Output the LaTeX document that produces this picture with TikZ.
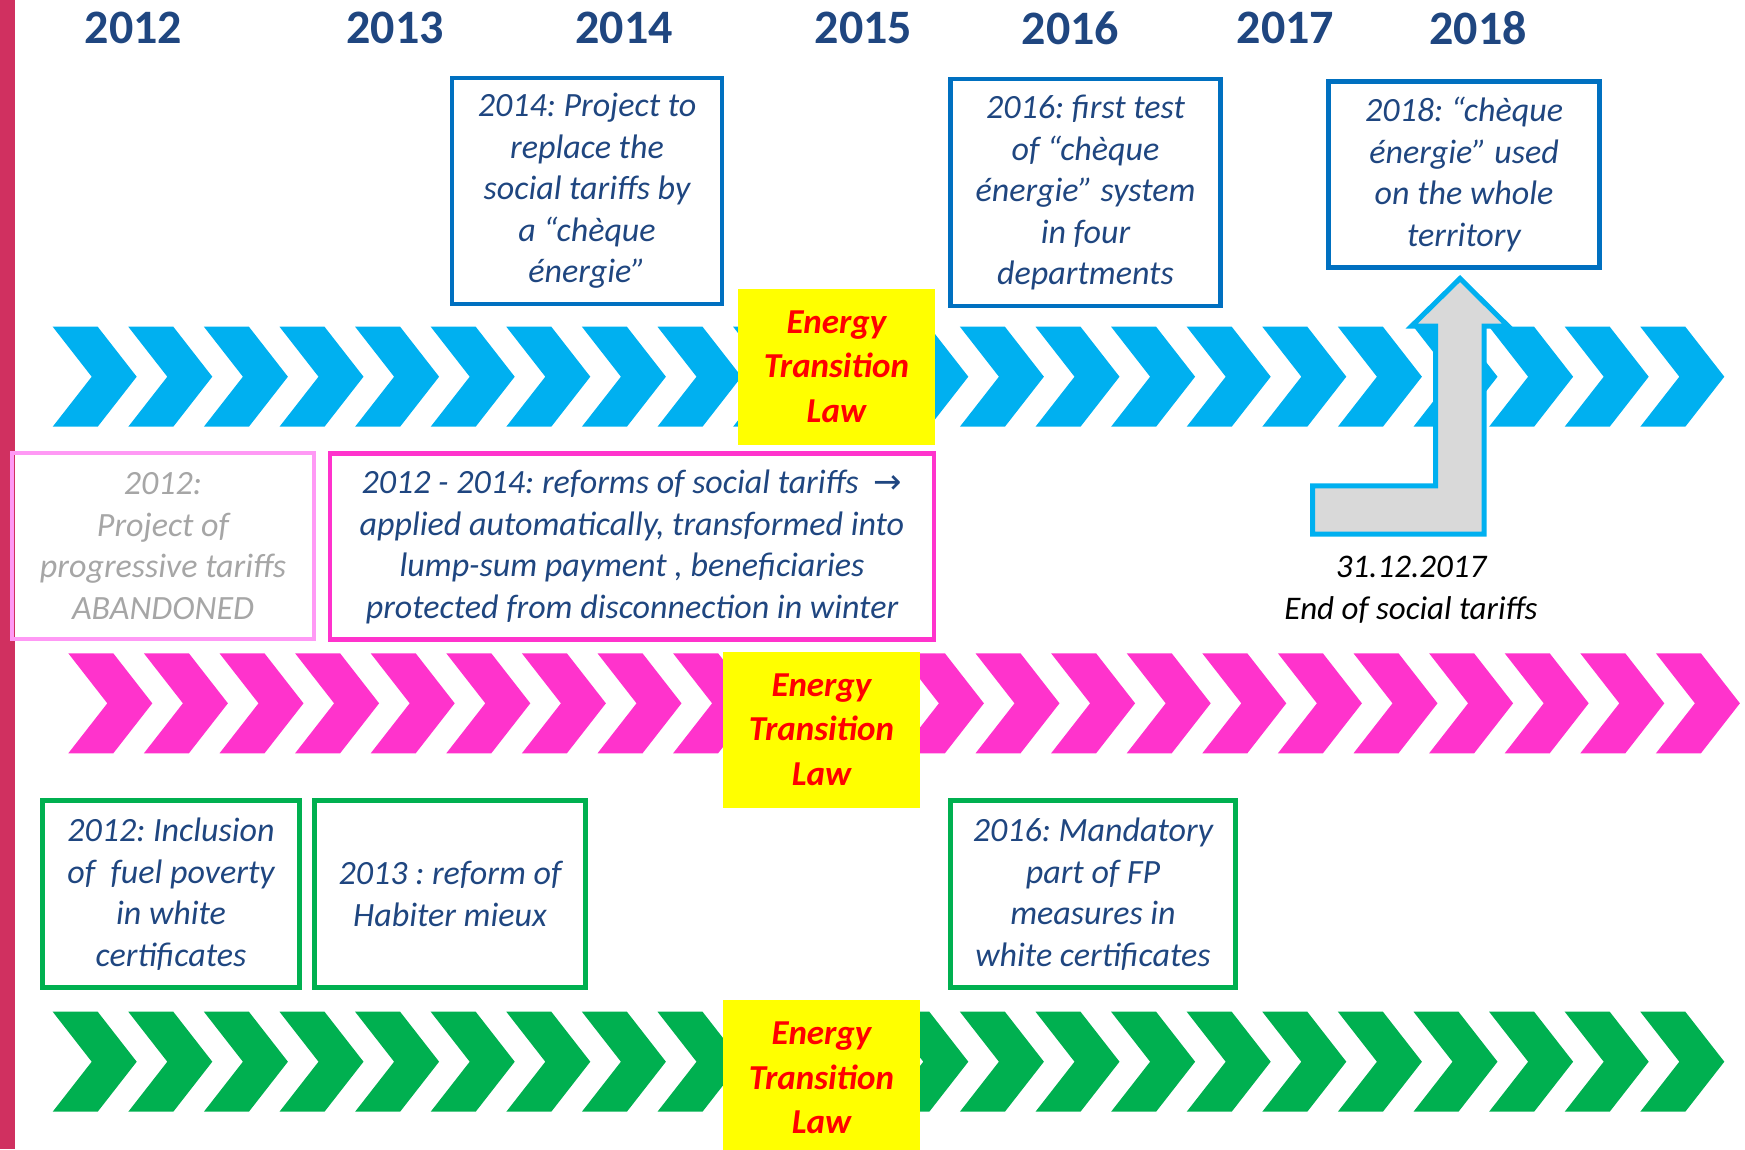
\documentclass[tikz,border=0pt]{standalone}
\usepackage{fontspec}
\setmainfont{Carlito}
\newfontfamily\arrowfont{DejaVu Sans}
\usetikzlibrary{positioning}
\frenchspacing
\definecolor{txtblue}{HTML}{1F4680}
\definecolor{boxblue}{HTML}{0070C0}
\definecolor{chevblue}{HTML}{00B0F0}
\definecolor{chevpink}{HTML}{FF33CC}
\definecolor{softpink}{HTML}{FF99F5}
\definecolor{chevgreen}{HTML}{00B050}
\definecolor{arrowgray}{HTML}{D9D9D9}
\definecolor{txtgray}{HTML}{A6A6A6}
\definecolor{barred}{HTML}{D03060}
\definecolor{lawyellow}{HTML}{FFFF00}
% one row of 22 chevrons: colour, left x, top y
\newcommand{\chevrons}[3]{%
  \foreach \i in {0,...,21}
    \fill[#1] ({#2+75.6*\i},#3) -- ++(45,0) -- ++(39,50) -- ++(-39,50)
      -- ++(-45,0) -- ++(39,-50) -- cycle;}

\begin{document}
\begin{tikzpicture}[x=1pt,y=-1pt,
  year/.style={font=\fontsize{48}{58}\selectfont\bfseries,text=txtblue},
  box/.style={draw,line width=4.5pt,align=center,inner sep=0pt,
    font=\fontsize{34}{41.5}\selectfont\itshape,text=txtblue},
  bluebox/.style={box,draw=boxblue},
  pinkbox/.style={box,draw=chevpink},
  greenbox/.style={box,draw=chevgreen},
  law/.style={fill=lawyellow,text=red,align=center,inner sep=0pt,
    minimum width=197pt,minimum height=156pt,
    font=\fontsize{35}{44.5}\selectfont\bfseries\itshape}]
\useasboundingbox (0,0) rectangle (1745,1149);
\fill[barred] (0,0) rectangle (14.5,1149);
%
% years
\node[year] (y12) at (133.5,28) {2012};
\node[year] (y13) at (395,28) {2013};
\node[year] (y14) at (624,28) {2014};
\node[year] (y15) at (863.5,28) {2015};
\node[year] (y16) at (1070.5,28) {2016};
\node[year] (y17) at (1285.5,28) {2017};
\node[year] (y18) at (1478,28) {2018};
%
% the three lanes
\chevrons{chevblue}{52.7}{326.7}
\chevrons{chevpink}{68.3}{653.3}
\chevrons{chevgreen}{52.7}{1011.7}
\node[law] (law1) at (836.4,366.5) {Energy\\Transition\\Law};
\node[law] (law2) at (821.5,729.5) {Energy\\Transition\\Law};
\node[law] (law3) at (821.5,1078) {Energy\\Transition\\Law};
%
% cheque energie
\node[bluebox,minimum width=270pt,minimum height=226pt] (b14) at (587,191)
  {2014: Project to\\replace the\\social tariffs by\\a “chèque\\énergie”};
\node[bluebox,minimum width=270pt,minimum height=227pt] (b16) at (1085.5,192.5)
  {2016: first test\\of “chèque\\énergie” system\\in four\\departments};
\node[bluebox,minimum width=271pt,minimum height=186pt] (b18) at (1464,174.6)
  {2018: “chèque\\énergie” used\\on the whole\\territory};
\filldraw[draw=chevblue,fill=arrowgray,line width=5pt]
  (1312.5,485.8) -- (1435.5,485.8) -- (1435.5,326) -- (1411.7,326)
  -- (1460,278.5) -- (1508,326) -- (1484,326) -- (1484,534.2)
  -- (1312.5,534.2) -- cycle;
\node[align=center,font=\fontsize{33}{42}\selectfont\itshape] (end) at (1411,590)
  {31.12.2017\\End of social tariffs};
%
% social tariffs
\node[box,draw=softpink,text=txtgray,minimum width=302pt,minimum height=186pt] (p12) at (163,546)
  {2012:\\Project of\\progressive tariffs\\ABANDONED};
\node[pinkbox,minimum width=604pt,minimum height=186pt] (p14) at (632,546.7)
  {2012 - 2014: reforms of social tariffs \ {\arrowfont\upshape →}\\applied automatically, transformed into\\lump-sum payment , beneficiaries\\protected from disconnection in winter};
%
% white certificates
\node[greenbox,minimum width=257pt,minimum height=187pt] (g12) at (171,894)
  {2012: Inclusion\\of~ fuel poverty\\in white\\certificates};
\node[greenbox,minimum width=271pt,minimum height=187pt] (g13) at (450,894)
  {2013 : reform of\\Habiter mieux};
\node[greenbox,minimum width=285pt,minimum height=187pt] (g16) at (1093,894)
  {2016: Mandatory\\part of FP\\measures in\\white certificates};
\end{tikzpicture}
\end{document}
